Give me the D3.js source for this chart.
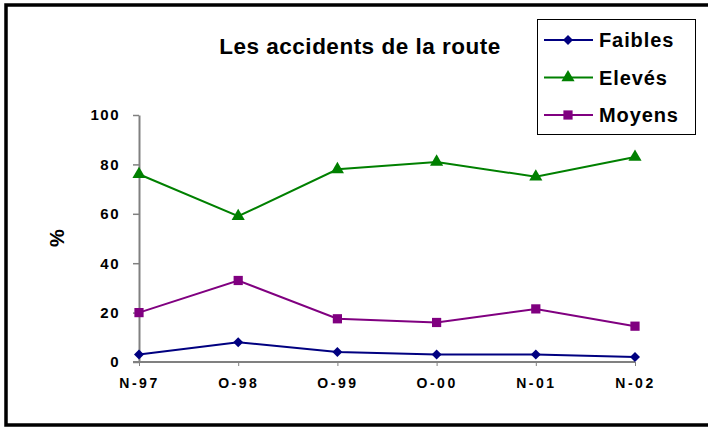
<!DOCTYPE html>
<html>
<head>
<meta charset="utf-8">
<script src="https://cdn.jsdelivr.net/npm/d3@7"></script>
<style>
  body { margin: 0; background: #fff; }
  svg text { font-family: Arial, "Liberation Sans", sans-serif; font-weight: bold; }
</style>
</head>
<body>
<div id="chart-container"></div>
<script>
const categories = ['N-97', 'O-98', 'O-99', 'O-00', 'N-01', 'N-02'];
const faibles = [3, 8, 4, 3, 3, 2];
const eleves = [76, 59, 78, 81, 75, 83];
const moyens = [20, 33, 17.5, 16, 21.5, 14.5];
const yTicks = [0, 20, 40, 60, 80, 100];

// diamond = square turned 45 degrees
const series = [
  { name: 'Faibles', values: faibles, color: '#000080', symbol: d3.symbolSquare, size: 50, rotate: 45 },
  { name: 'Elevés', values: eleves, color: '#008000', symbol: d3.symbolTriangle, size: 75, rotate: 0 },
  { name: 'Moyens', values: moyens, color: '#800080', symbol: d3.symbolSquare, size: 85, rotate: 0 }
];

const width = 708, height = 430;
const margin = { top: 115, right: 73, bottom: 68, left: 139 };

const svg = d3.select('#chart-container')
  .append('svg')
  .attr('width', width)
  .attr('height', height);

// outer frame
svg.append('rect')
  .attr('x', 6).attr('y', 5)
  .attr('width', 710).attr('height', 420)
  .attr('fill', 'none')
  .attr('stroke', '#000')
  .attr('stroke-width', 3.5);

const x = d3.scalePoint()
  .domain(categories)
  .range([margin.left, width - margin.right]);

const y = d3.scaleLinear()
  .domain([0, 100])
  .range([height - margin.bottom, margin.top]);

// y axis
const yAxis = svg.append('g')
  .attr('transform', `translate(${margin.left},0)`)
  .call(d3.axisLeft(y).tickValues(yTicks).tickSize(6).tickPadding(13).tickSizeOuter(0));
yAxis.select('.domain').attr('stroke', '#808080').attr('stroke-width', 2);
yAxis.selectAll('.tick line').attr('stroke', '#808080').attr('stroke-width', 1.5);
yAxis.selectAll('.tick text')
  .attr('fill', '#000')
  .style('font-size', '15px')
  .style('letter-spacing', '1.5px');

// x axis
const xAxis = svg.append('g')
  .attr('transform', `translate(0,${height - margin.bottom})`)
  .call(d3.axisBottom(x).tickSize(4).tickPadding(12).tickSizeOuter(0));
xAxis.select('.domain')
  .attr('d', `M${margin.left - 6},0H${width - margin.right}`)
  .attr('stroke', '#808080').attr('stroke-width', 2);
xAxis.selectAll('.tick line').attr('stroke', '#808080');
xAxis.selectAll('.tick text')
  .attr('fill', '#000')
  .style('font-size', '14px')
  .style('letter-spacing', '2.5px');

// y label
svg.append('text')
  .attr('transform', 'translate(64,238) rotate(-90)')
  .attr('text-anchor', 'middle')
  .style('font-size', '20px')
  .text('%');

// title
svg.append('text')
  .attr('x', 360)
  .attr('y', 54)
  .attr('text-anchor', 'middle')
  .style('font-size', '22.5px')
  .style('letter-spacing', '0.5px')
  .text('Les accidents de la route');

// lines + markers
const line = d3.line()
  .x((d, i) => x(categories[i]))
  .y(d => y(d));

series.forEach(s => {
  svg.append('path')
    .datum(s.values)
    .attr('fill', 'none')
    .attr('stroke', s.color)
    .attr('stroke-width', 2)
    .attr('d', line);

  svg.selectAll(null)
    .data(s.values)
    .join('path')
    .attr('transform', (d, i) => `translate(${x(categories[i])},${y(d)}) rotate(${s.rotate})`)
    .attr('d', d3.symbol().type(s.symbol).size(s.size))
    .attr('fill', s.color);
});

// legend
const legend = svg.append('g');
legend.append('rect')
  .attr('x', 537.5).attr('y', 19.5)
  .attr('width', 158).attr('height', 115)
  .attr('fill', '#fff')
  .attr('stroke', '#000');

const legendY = d3.scalePoint()
  .domain(series.map(s => s.name))
  .range([40, 115]);

series.forEach(s => {
  const ly = legendY(s.name);
  legend.append('line')
    .attr('x1', 544).attr('x2', 593)
    .attr('y1', ly).attr('y2', ly)
    .attr('stroke', s.color)
    .attr('stroke-width', 2);
  legend.append('path')
    .attr('transform', `translate(568,${ly}) rotate(${s.rotate})`)
    .attr('d', d3.symbol().type(s.symbol).size(s.size))
    .attr('fill', s.color);
  legend.append('text')
    .attr('x', 599)
    .attr('y', ly)
    .attr('dy', '0.35em')
    .style('font-size', '20px')
    .style('letter-spacing', '0.9px')
    .text(s.name);
});
</script>
</body>
</html>
